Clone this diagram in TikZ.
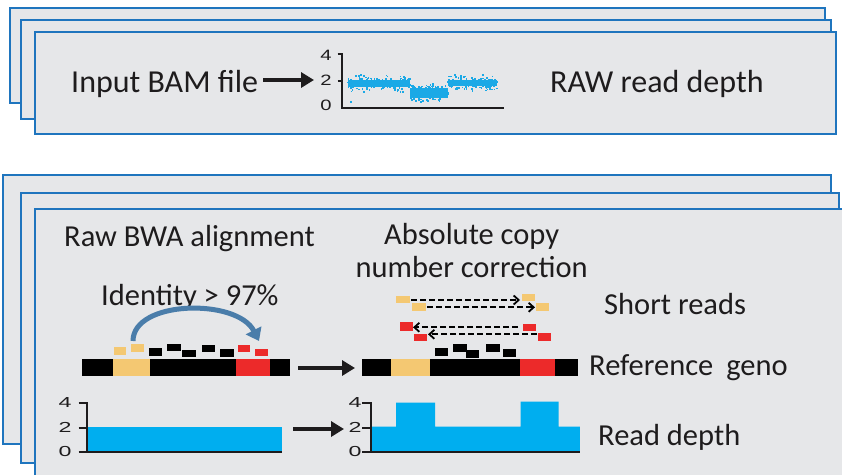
\documentclass[tikz,border=0pt]{standalone}
\usepackage{fontspec}
\setmainfont{Carlito}
\newfontfamily\digitfont{Liberation Sans}
\usetikzlibrary{arrows.meta}
\definecolor{panelfill}{HTML}{E6E7E9}
\definecolor{panelline}{HTML}{1F75BE}
\definecolor{depthblue}{HTML}{00AEEF}
\definecolor{dotblue}{HTML}{1BA9E6}
\definecolor{readyellow}{HTML}{F4C872}
\definecolor{readred}{HTML}{EC2A2A}
\definecolor{curvblue}{HTML}{4A7DAA}
\definecolor{ink}{HTML}{1E1C1D}
\tikzset{
 panel/.style={fill=panelfill, draw=panelline, line width=2pt},
 txt/.style={font=\fontsize{30.5}{34}\selectfont, inner sep=0pt, anchor=base west, text=ink},
 bigtxt/.style={txt, font=\fontsize{32}{36}\selectfont},
 ticklbl/.style={font=\digitfont\fontsize{15}{15}\selectfont, inner sep=0pt, anchor=center, text=ink, xscale=1.35},
 wideticklbl/.style={font=\digitfont\fontsize{14.5}{15}\selectfont, inner sep=0pt, anchor=center, text=ink, xscale=1.6},
 bigarrow/.style={draw=ink, line width=4pt, -{Triangle[length=13pt,width=15pt]}},
 axisline/.style={draw=ink, line width=2pt},
 dashedarrow/.style={draw=black, line width=1.8pt, dash pattern=on 6pt off 3pt, -{Straight Barb[length=5pt,width=9pt]}},
 yread/.style={fill=readyellow},
 rread/.style={fill=readred},
 kread/.style={fill=black},
}
\begin{document}
\begin{tikzpicture}[x=1pt,y=-1pt]
\useasboundingbox (0,0) rectangle (842,474);
\clip (0,0) rectangle (842,474);
% ---------- top stack
\draw[panel] (9.5,7.5) rectangle (825,103);
\draw[panel] (20.5,19.5) rectangle (831,119);
\draw[panel] (34.5,31.5) rectangle (836,134);
% ---------- bottom stack
\draw[panel] (3,175) rectangle (831,444);
\draw[panel] (20.5,193) rectangle (838.5,463);
\draw[panel] (35,208.5) rectangle (860,490);

% ---------- top texts
\node[bigtxt] (inbam) at (71,92.7) {Input BAM file};
\node[bigtxt] (rawrd) at (550,92.7) {RAW read depth};
\coordinate (a1s) at (263,80);
\coordinate (a1e) at (314,80);
\draw[bigarrow] (a1s) -- (a1e);

% ---------- top chart
\pgfmathsetseed{12}
\foreach \n/\xa/\xb/\yc/\hw in {260/348/410/83.5/3.2, 170/410/448/93.3/5, 220/448/497/83/3.2}{
  \fill[dotblue] (\xa,\yc-\hw) rectangle (\xb,\yc+\hw);
  \foreach \i in {1,...,\n}{
    \pgfmathsetmacro\px{\xa+(\xb-\xa)*rnd}
    \pgfmathsetmacro\py{\yc+(\hw+6)*rand*rnd}
    \fill[dotblue] (\px-0.8,\py-0.8) rectangle (\px+0.8,\py+0.8);
  }
}
\fill[dotblue] (350,101) rectangle (351.6,102.6);
\draw[axisline] (337.5,54) -- (342.3,54) -- (342.3,107.7) -- (504,107.7);
\draw[axisline] (337.5,80.7) -- (342.3,80.7);
\node[ticklbl] (t4) at (326,55) {4};
\node[ticklbl] (t2) at (326,80.5) {2};
\node[ticklbl] (t0) at (326,105) {0};

% ---------- bottom texts
\node[txt] (bwa) at (64,246) {Raw BWA alignment};
\node[txt] (abs1) at (384,244) {Absolute copy};
\node[txt] (abs2) at (355.5,277.3) {number correction};
\node[txt] (ident) at (101,305) {Identity > 97\%};
\node[txt] (short) at (604,314) {Short reads};
\node[txt] (refg) at (589,375) {Reference\hspace{6pt} geno};
\node[txt] (rdep) at (598,445) {Read depth};

% ---------- left reference bar and reads
\fill[black] (82,359.3) rectangle (290,376);
\fill[yread] (112.7,359.3) rectangle (150,376);
\fill[rread] (236,359.3) rectangle (270,376);
\fill[yread] (114,347.3) rectangle (126,354.7);
\fill[yread] (131.3,344) rectangle (144,351.7);
\fill[kread] (149.3,348.3) rectangle (162.3,355.7);
\fill[kread] (167.3,344) rectangle (180.5,351);
\fill[kread] (182.3,350) rectangle (195.7,357.3);
\fill[kread] (202,344.7) rectangle (215.3,351.7);
\fill[kread] (220.3,349.3) rectangle (233.7,356.7);
\fill[rread] (238,345.3) rectangle (250,352);
\fill[rread] (255,349) rectangle (268.3,356);
\coordinate (cs) at (133,341);
\coordinate (ce) at (259,341);
\draw[curvblue, line width=5pt, -{Triangle[length=12pt,width=17pt]}] (cs) .. controls (133,300) and (237,298) .. (ce);

% ---------- arrow between bars
\coordinate (a2s) at (298,368);
\coordinate (a2e) at (355,368);
\draw[bigarrow] (a2s) -- (a2e);

% ---------- right reference bar and reads
\fill[black] (361.7,359.3) rectangle (577.7,376);
\fill[yread] (390.7,359.3) rectangle (430,376);
\fill[rread] (520,359.3) rectangle (555,376);
\fill[kread] (435,348.3) rectangle (448.3,356);
\fill[kread] (453.3,344) rectangle (466.7,351.7);
\fill[kread] (465.7,350.3) rectangle (479,357.7);
\fill[kread] (486.3,344.3) rectangle (499.7,352);
\fill[kread] (502.7,349.3) rectangle (516,357);

% short reads
\fill[yread] (396,296) rectangle (410,303.3);
\fill[yread] (521.7,294) rectangle (535,301);
\fill[yread] (412,303.3) rectangle (426,310.7);
\fill[yread] (535.7,303.3) rectangle (549,310.7);
\fill[rread] (400,322.3) rectangle (412.7,330.7);
\fill[rread] (523,323.7) rectangle (535.7,330.7);
\fill[rread] (414,333.7) rectangle (427.3,341.3);
\fill[rread] (538,333.3) rectangle (551.3,341);
\coordinate (s1a) at (411,300);
\coordinate (s1b) at (520,300);
\coordinate (s2a) at (427,307.3);
\coordinate (s2b) at (535,307.3);
\coordinate (s3a) at (518,327.3);
\coordinate (s3b) at (413,327.3);
\coordinate (s4a) at (537,334.3);
\coordinate (s4b) at (428,334.3);
\draw[dashedarrow] (s1a) -- (s1b);
\draw[dashedarrow] (s2a) -- (s2b);
\draw[dashedarrow] (s3a) -- (s3b);
\draw[dashedarrow] (s4a) -- (s4b);

% ---------- bottom left depth chart
\fill[depthblue] (86.5,426.7) rectangle (282,451.7);
\draw[axisline] (78.5,403.3) -- (86.5,403.3) -- (86.5,451.7) -- (282,451.7);
\draw[axisline] (78.5,427.7) -- (86.5,427.7);
\draw[axisline] (78.5,451.7) -- (86.5,451.7);
\node[wideticklbl] (l4) at (65,403) {4};
\node[wideticklbl] (l2) at (65,427.7) {2};
\node[wideticklbl] (l0) at (65,451) {0};

\coordinate (a3s) at (293,429);
\coordinate (a3e) at (344,429);
\draw[bigarrow] (a3s) -- (a3e);

% ---------- bottom right depth chart
\fill[depthblue] (371.2,451.7) -- (371.2,426.7) -- (396,426.7) -- (396,402.7) -- (435,402.7) -- (435,426.7) -- (520.5,426.7) -- (520.5,401.7) -- (558.7,401.7) -- (558.7,426.7) -- (579.8,426.7) -- (579.8,451.7) -- cycle;
\draw[axisline] (362,403.3) -- (371.2,403.3) -- (371.2,451.7) -- (579.8,451.7);
\draw[axisline] (362,427.7) -- (371.2,427.7);
\draw[axisline] (362,451.7) -- (371.2,451.7);
\node[wideticklbl] (r4) at (355,403) {4};
\node[wideticklbl] (r2) at (355,427.7) {2};
\node[wideticklbl] (r0) at (355,451) {0};
\end{tikzpicture}
\end{document}
